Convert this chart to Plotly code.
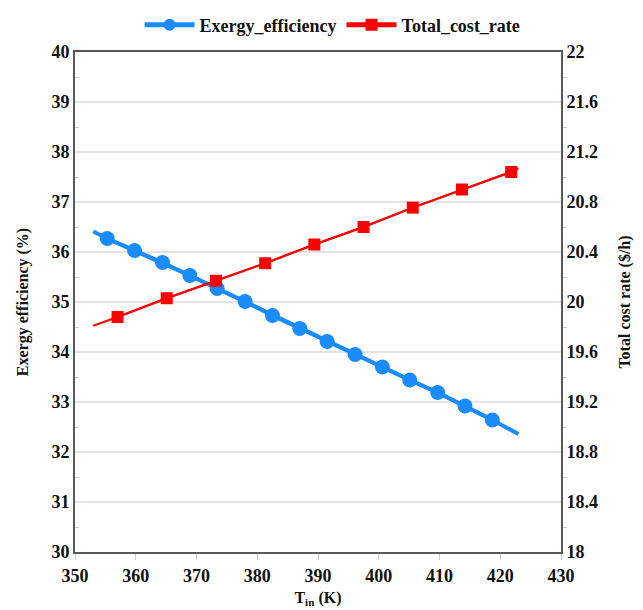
import plotly.graph_objects as go

# Exergy efficiency series (left axis)
eff_line_x = [353.0, 423.0]
eff_line_y = [36.41, 32.36]
eff_mark_x = [355.3, 359.8, 364.4, 368.9, 373.4, 378.0, 382.5, 387.0,
              391.5, 396.1, 400.6, 405.1, 409.7, 414.2, 418.7]
eff_mark_y = [36.27, 36.03, 35.79, 35.53, 35.27, 35.01, 34.73, 34.47,
              34.21, 33.95, 33.70, 33.44, 33.19, 32.92, 32.64]

# Total cost rate series (right axis)
cost_line_x = [353.0, 423.0]
cost_line_y = [19.81, 21.07]
cost_mark_x = [357.0, 365.1, 373.2, 381.3, 389.4, 397.5, 405.6, 413.7, 421.8]
cost_mark_y = [19.88, 20.03, 20.17, 20.31, 20.46, 20.60, 20.755, 20.90, 21.04]

x_ticks = [350, 360, 370, 380, 390, 400, 410, 420, 430]
left_ticks = [30, 31, 32, 33, 34, 35, 36, 37, 38, 39, 40]
right_ticks = [18, 18.4, 18.8, 19.2, 19.6, 20, 20.4, 20.8, 21.2, 21.6, 22]
right_labels = ["18", "18.4", "18.8", "19.2", "19.6", "20", "20.4", "20.8",
                "21.2", "21.6", "22"]

BLUE = "#1a8cff"
RED = "#ff0000"
FONT = "Liberation Serif"
TXT = "#111111"
AX = "#595959"

fig = go.Figure()

fig.add_trace(go.Scatter(x=eff_line_x[:1] + eff_mark_x + eff_line_x[1:],
                         y=eff_line_y[:1] + eff_mark_y + eff_line_y[1:],
                         mode="lines", line=dict(color=BLUE, width=4),
                         showlegend=False, hoverinfo="skip"))
fig.add_trace(go.Scatter(x=eff_mark_x, y=eff_mark_y, mode="lines+markers",
                         name="Exergy_efficiency",
                         line=dict(color=BLUE, width=4),
                         marker=dict(symbol="circle", size=15, color=BLUE)))

fig.add_trace(go.Scatter(x=cost_line_x[:1] + cost_mark_x + cost_line_x[1:],
                         y=cost_line_y[:1] + cost_mark_y + cost_line_y[1:],
                         mode="lines", line=dict(color=RED, width=2),
                         yaxis="y2", showlegend=False, hoverinfo="skip"))
fig.add_trace(go.Scatter(x=cost_mark_x, y=cost_mark_y, mode="lines+markers",
                         name="Total_cost_rate", yaxis="y2",
                         line=dict(color=RED, width=2),
                         marker=dict(symbol="square", size=12, color=RED)))

tickfont = dict(family=FONT, size=18, color=TXT, weight="bold")
titlefont = dict(family=FONT, size=16, color=TXT, weight="bold")

fig.update_layout(
    width=643, height=610,
    margin=dict(l=67, r=90, t=44, b=66, autoexpand=False),
    paper_bgcolor="white", plot_bgcolor="white",
    font=dict(family=FONT, size=17, color=TXT, weight="bold"),
    legend=dict(orientation="h", x=0.53, xanchor="center",
                yref="container", y=0.972, yanchor="middle",
                font=dict(family=FONT, size=18, color=TXT, weight="bold"),
                bgcolor="rgba(0,0,0,0)", itemsizing="constant", itemwidth=50),
    xaxis=dict(range=[350, 430], tickvals=x_ticks, ticktext=[str(v) for v in x_ticks],
               showgrid=False, zeroline=False, automargin=False,
               showline=True, linecolor=AX, linewidth=2, mirror=True,
               ticks="outside", ticklen=6, tickcolor="#cccccc", tickwidth=1,
               tickfont=tickfont,
               title=dict(text="T<sub>in</sub> (K)", font=titlefont, standoff=7)),
    yaxis=dict(range=[30, 40], tickvals=left_ticks, ticktext=[str(v) for v in left_ticks],
               showgrid=True, gridcolor="#e3e3e3", gridwidth=1.5, zeroline=False,
               showline=True, linecolor=AX, linewidth=2, automargin=False,
               ticks="",
               minor=dict(tickvals=[v + 0.5 for v in left_ticks[:-1]], ticks="inside",
                          ticklen=4, tickcolor="#cccccc", showgrid=False),
               tickfont=tickfont,
               title=dict(text="Exergy efficiency (%)", font=titlefont, standoff=19)),
    yaxis2=dict(range=[18, 22], tickvals=right_ticks, ticktext=right_labels,
                overlaying="y", side="right", showgrid=False, zeroline=False,
                showline=True, linecolor=AX, linewidth=2, automargin=False,
                ticks="",
                minor=dict(tickvals=[round(v + 0.2, 1) for v in right_ticks[:-1]],
                           ticks="outside", ticklen=4, tickcolor="#cccccc", showgrid=False),
                tickfont=tickfont,
                title=dict(text="Total cost rate ($/h)", font=titlefont, standoff=22)),
)

fig.write_html("out.html")
